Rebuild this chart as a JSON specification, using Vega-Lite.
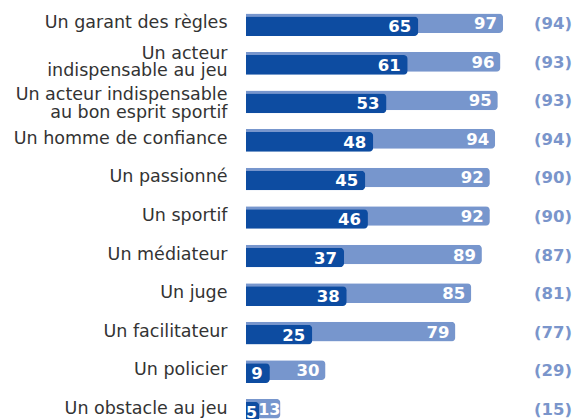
{
  "$schema": "https://vega.github.io/schema/vega-lite/v6.json",
  "width": 326,
  "height": 424,
  "autosize": {"type": "none"},
  "padding": {"left": 246, "top": 4, "right": 1, "bottom": 0},
  "background": "white",
  "config": {"view": {"stroke": null}, "font": "DejaVu Sans"},
  "data": {
    "values": [
      {"label": "Un garant des règles", "a": 65, "b": 97, "c": "(94)"},
      {"label": "Un acteur|indispensable au jeu", "a": 61, "b": 96, "c": "(93)"},
      {"label": "Un acteur indispensable|au bon esprit sportif", "a": 53, "b": 95, "c": "(93)"},
      {"label": "Un homme de confiance", "a": 48, "b": 94, "c": "(94)"},
      {"label": "Un passionné", "a": 45, "b": 92, "c": "(90)"},
      {"label": "Un sportif", "a": 46, "b": 92, "c": "(90)"},
      {"label": "Un médiateur", "a": 37, "b": 89, "c": "(87)"},
      {"label": "Un juge", "a": 38, "b": 85, "c": "(81)"},
      {"label": "Un facilitateur", "a": 25, "b": 79, "c": "(77)"},
      {"label": "Un policier", "a": 9, "b": 30, "c": "(29)"},
      {"label": "Un obstacle au jeu", "a": 5, "b": 13, "c": "(15)"}
    ]
  },
  "encoding": {
    "y": {
      "field": "label",
      "type": "nominal",
      "sort": null,
      "scale": {"paddingInner": 0.49, "paddingOuter": 0.245},
      "axis": {
        "title": null,
        "domain": false,
        "ticks": false,
        "labelPadding": 19,
        "labelFontSize": 17.5,
        "labelLimit": 400,
        "labelColor": "#333333",
        "labelFont": "DejaVu Sans",
        "labelExpr": "split(datum.value, '|')",
        "labelLineHeight": 17.5,
        "labelOffset": {"condition": [{"test": "indexof(datum.value, 'esprit') >= 0", "value": -5}, {"test": "indexof(datum.value, '|') >= 0", "value": -8}], "value": 0}
      }
    }
  },
  "layer": [
    {
      "mark": {"type": "bar", "color": "#7796cd", "cornerRadiusEnd": 4},
      "encoding": {
        "x": {"field": "b", "type": "quantitative", "scale": {"domain": [0, 123], "nice": false, "zero": true}, "axis": null}
      }
    },
    {
      "mark": {"type": "bar", "color": "#0d4ca1", "cornerRadiusEnd": 4, "yOffset": 3},
      "encoding": {
        "x": {"field": "a", "type": "quantitative"}
      }
    },
    {
      "transform": [{"filter": "datum.b >= 20"}],
      "mark": {"type": "text", "align": "right", "baseline": "middle", "dx": -6, "dy": 1, "color": "white", "fontWeight": "bold", "fontSize": 16.5, "font": "DejaVu Sans"},
      "encoding": {
        "x": {"field": "b", "type": "quantitative"},
        "text": {"field": "b"}
      }
    },
    {
      "transform": [{"filter": "datum.b < 20"}],
      "mark": {"type": "text", "align": "right", "baseline": "middle", "dx": 0, "dy": 1, "color": "white", "fontWeight": "bold", "fontSize": 16, "font": "DejaVu Sans"},
      "encoding": {
        "x": {"field": "b", "type": "quantitative"},
        "text": {"field": "b"}
      }
    },
    {
      "transform": [{"filter": "datum.a >= 8"}],
      "mark": {"type": "text", "align": "right", "baseline": "middle", "dx": -7, "dy": 1, "yOffset": 3, "color": "white", "fontWeight": "bold", "fontSize": 16.5, "font": "DejaVu Sans"},
      "encoding": {
        "x": {"field": "a", "type": "quantitative"},
        "text": {"field": "a"}
      }
    },
    {
      "transform": [{"filter": "datum.a < 8"}],
      "mark": {"type": "text", "align": "right", "baseline": "middle", "dx": -2, "dy": 1, "yOffset": 3, "color": "white", "fontWeight": "bold", "fontSize": 16, "font": "DejaVu Sans"},
      "encoding": {
        "x": {"field": "a", "type": "quantitative"},
        "text": {"field": "a"}
      }
    },
    {
      "mark": {"type": "text", "align": "right", "baseline": "middle", "dy": 1, "color": "#7a95cb", "fontWeight": "bold", "fontSize": 16.5, "font": "DejaVu Sans"},
      "encoding": {
        "x": {"datum": 123},
        "text": {"field": "c"}
      }
    }
  ]
}
